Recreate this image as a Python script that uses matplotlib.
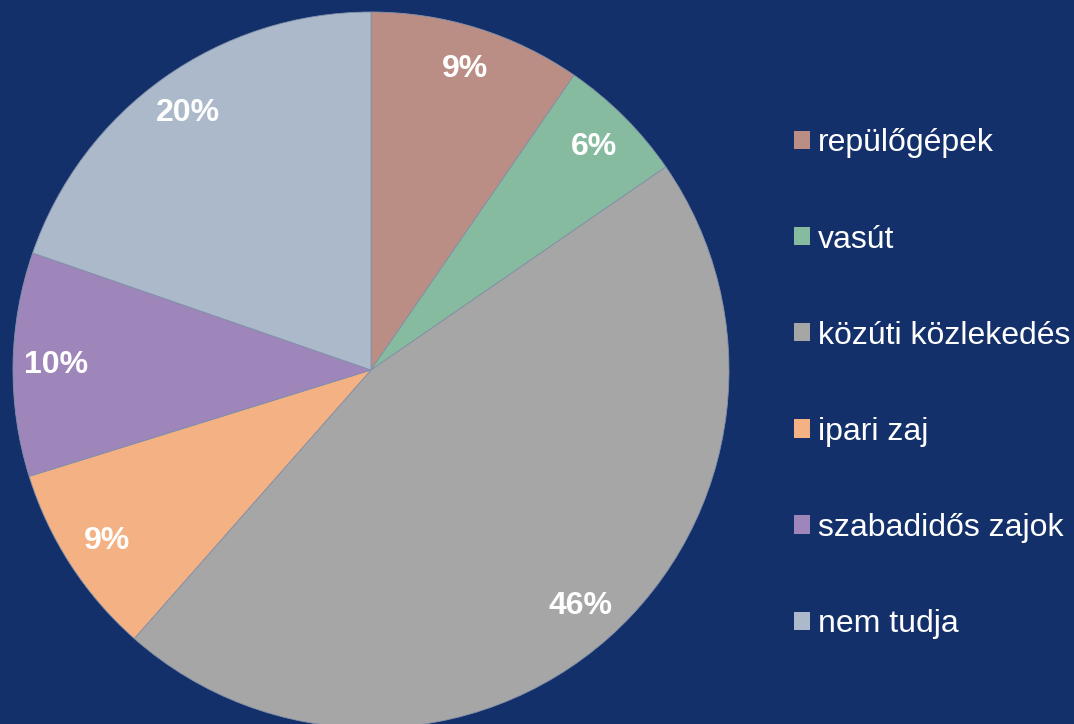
import matplotlib.pyplot as plt

# zajforrasok megoszlasa (%)
categories = ["repülőgépek", "vasút", "közúti közlekedés", "ipari zaj",
              "szabadidős zajok", "nem tudja"]
values = [9.6, 5.8, 46.1, 8.7, 10.1, 19.7]
pct_labels = ["9%", "6%", "46%", "9%", "10%", "20%"]
colors = ["#BB8E85", "#87BBA0", "#A6A6A6", "#F4B183", "#9E86BA", "#ACB9CA"]

bg = "#13306A"
plt.rcParams['font.family'] = ['Liberation Sans', 'DejaVu Sans']

fig = plt.figure(figsize=(10.74, 7.24), dpi=100, facecolor=bg)
ax = fig.add_axes([13 / 1074, -4 / 724, 716 / 1074, 716 / 724])
ax.set_facecolor(bg)

wedges, texts = ax.pie(values, labels=pct_labels, colors=colors,
                       startangle=90, counterclock=False,
                       labeldistance=0.88,
                       wedgeprops=dict(edgecolor="#8391AA", linewidth=0.6))
for t in texts:
    t.set_ha("center")
    t.set_va("center")
    t.set_color("white")
    t.set_fontsize(23)
    t.set_fontweight("bold")

ax.set_xlim(-1, 1)
ax.set_ylim(-1, 1)
ax.set_aspect("equal")
ax.axis("off")
for w in wedges:
    w.set_clip_on(False)

leg = fig.legend(wedges, categories, loc="center left",
                 bbox_to_anchor=(794 / 1074, 0.470), frameon=False,
                 fontsize=23, handlelength=0.5, handleheight=0.5,
                 handletextpad=0.25, labelspacing=2.07,
                 borderpad=0, borderaxespad=0)
for t in leg.get_texts():
    t.set_color("white")
for h in leg.legend_handles:
    h.set_edgecolor("none")

fig.savefig("out.png", dpi=100, facecolor=bg)
